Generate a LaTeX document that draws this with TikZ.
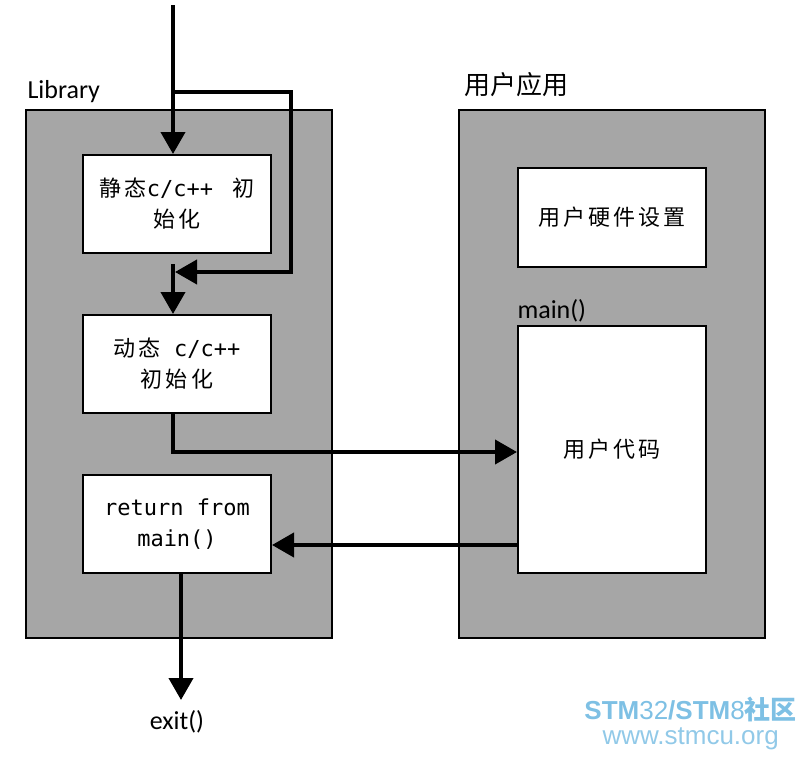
\documentclass[tikz,border=0pt]{standalone}
\usepackage{fontspec}
\setmainfont{Carlito}
\newfontfamily\cjkwide[LetterSpace=14]{Noto Sans CJK SC}
\newfontfamily\cjkplain{Noto Sans CJK SC}
\newfontfamily\monofont{DejaVu Sans Mono}
\newfontfamily\wmfont{Liberation Sans}
\usetikzlibrary{arrows.meta,positioning}
\definecolor{panelgray}{HTML}{A6A6A6}
\definecolor{wmblue}{HTML}{7EC0E4}
\newcommand\codefont{\monofont\fontsize{22}{31}\selectfont}
\newcommand\boxfont{\cjkwide\fontsize{22}{31}\selectfont}

\begin{document}
\begin{tikzpicture}[x=1pt,y=-1pt,
    panel/.style={draw,line width=2pt,fill=panelgray,minimum width=306pt,minimum height=528pt},
    stepbox/.style={draw,line width=2pt,fill=white,minimum width=188pt,minimum height=98pt,align=center,font=\boxfont},
    heading/.style={font=\fontsize{26}{30}\selectfont},
    watermark/.style={anchor=base east,inner sep=0pt,font=\wmfont\fontsize{26}{30}\selectfont},
    flow/.style={line width=4pt,-{Triangle[length=22pt,width=24pt]}}]
    \useasboundingbox (0,0) rectangle (804,758);
    % the two panels
    \node[panel] (lib) at (179,374) {};
    \node[panel] (app) at (612,374) {};
    \node[heading,anchor=base west] (libname) at (24,98) {Library};
    \node[heading,font=\cjkplain\fontsize{26}{30}\selectfont,anchor=west] (appname) at (461,85) {用户应用};
    % library steps
    \node[stepbox] (static) at (177,204) {静态{\codefont c/c++\ }\hspace{6pt}初\\始化};
    \node[stepbox] (dynamic) at (177,364) {动态{\codefont\ c/c++}\\初始化};
    \node[stepbox,font=\codefont] (ret) at (177,524) {return from\\main()};
    % user application
    \node[stepbox,minimum height=99pt] (hwsetup) at (612,217.5) {用户硬件设置};
    \node[stepbox,minimum height=247pt] (usercode) at (612,449.5) {用户代码};
    \node[heading,anchor=base west] (mainname) at (514,318) {main()};
    \node[heading] (exitname) at (177,722) {exit()};
    % connectors
    \coordinate (entry) at (173,5);
    \coordinate (split) at (173,92);
    \coordinate (bypass) at (291,92);
    \coordinate (join) at (175,272);
    \coordinate (hook) at (173,452);
    \coordinate (back) at (518,545);
    \coordinate (out) at (181,700);
    \draw[flow] (entry) -- (entry |- static.north);
    \draw[flow] (split) -- (bypass) -- (bypass |- join) -- (join);
    \draw[flow,shorten <=10pt] (entry |- static.south) -- (entry |- dynamic.north);
    \draw[flow] (entry |- dynamic.south) -- (hook) -- (hook -| usercode.west);
    \draw[flow] (back) -- (back -| ret.east);
    \draw[flow] (out |- ret.south) -- (out);
    % watermark
    \node[watermark,text=wmblue] (wmtop) at (797,719)
      {\textbf{STM}32\textbf{/STM}8{\cjkplain\bfseries 社区}};
    \node[watermark,text=wmblue!85] (wmbottom) at (779,744) {www.stmcu.org};
\end{tikzpicture}
\end{document}
